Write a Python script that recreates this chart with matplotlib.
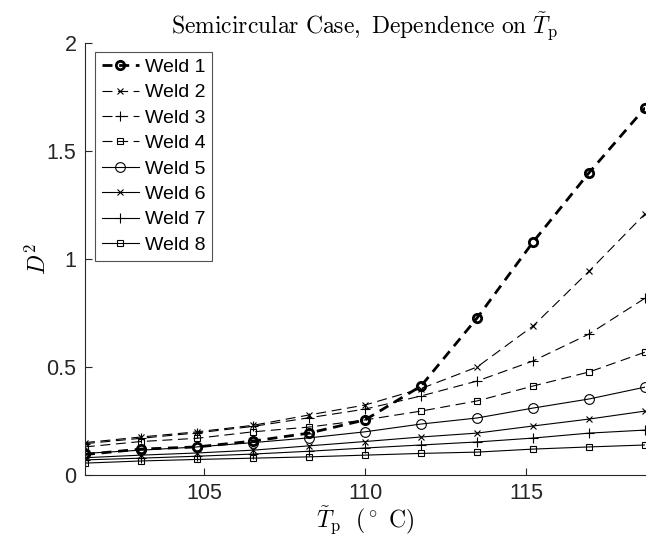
import numpy as np
import matplotlib
matplotlib.use('Agg')
import matplotlib.pyplot as plt

plt.rcParams['font.family'] = ['Liberation Sans', 'DejaVu Sans']
plt.rcParams['mathtext.fontset'] = 'cm'

# temperature grid (deg C)
tp = [101.3, 103.04, 104.78, 106.52, 108.26, 110.0, 111.74, 113.48, 115.22, 116.96, 118.7]

weld1 = [0.095, 0.12, 0.13, 0.157, 0.194, 0.255, 0.412, 0.727, 1.079, 1.40, 1.70]
weld2 = [0.15, 0.176, 0.20, 0.23, 0.278, 0.324, 0.40, 0.50, 0.69, 0.944, 1.21]
weld3 = [0.145, 0.17, 0.195, 0.225, 0.265, 0.305, 0.366, 0.435, 0.528, 0.653, 0.819]
weld4 = [0.13, 0.155, 0.17, 0.20, 0.222, 0.255, 0.296, 0.343, 0.412, 0.477, 0.569]
weld5 = [0.10, 0.115, 0.13, 0.15, 0.172, 0.20, 0.236, 0.264, 0.31, 0.352, 0.407]
weld6 = [0.08, 0.092, 0.102, 0.115, 0.135, 0.155, 0.176, 0.194, 0.227, 0.259, 0.296]
weld7 = [0.07, 0.078, 0.087, 0.097, 0.11, 0.125, 0.139, 0.153, 0.171, 0.194, 0.208]
weld8 = [0.055, 0.065, 0.072, 0.078, 0.084, 0.092, 0.10, 0.106, 0.12, 0.13, 0.139]

series = [weld1, weld2, weld3, weld4, weld5, weld6, weld7, weld8]
labels = ['Weld %d' % (i + 1) for i in range(8)]
markers = ['o', 'x', '+', 's', 'o', 'x', '+', 's']
msizes = [6, 5, 7, 4.5, 7, 5, 7, 4.5]

fig = plt.figure(figsize=(6.53, 5.42), dpi=100)
ax = fig.add_axes([0.130, 0.1236, 0.858, 0.797])

for i, (y, lab, m) in enumerate(zip(series, labels, markers)):
    if i == 0:
        ax.plot(tp, y, color='k', lw=2.0, dashes=(3.6, 2.4), marker=m, ms=6,
                mew=2.0, mfc='none', label=lab)
    elif i < 4:
        ax.plot(tp, y, color='k', lw=0.8, dashes=(9, 5), marker=m, ms=msizes[i],
                mew=0.8, mfc='none', label=lab)
    else:
        ax.plot(tp, y, color='k', lw=0.8, marker=m, ms=msizes[i],
                mew=0.8, mfc='none', label=lab)

ax.set_xlim(101.3, 118.7)
ax.set_ylim(0, 2)
ax.set_xticks([105, 110, 115])
ax.set_yticks([0, 0.5, 1, 1.5, 2])
ax.set_yticklabels(['0', '0.5', '1', '1.5', '2'])

gray = '#262626'
for side in ['top', 'right']:
    ax.spines[side].set_visible(False)
for side in ['left', 'bottom']:
    ax.spines[side].set_color(gray)
    ax.spines[side].set_linewidth(0.8)
ax.tick_params(direction='in', length=5, width=0.8, colors=gray, labelsize=15.5, pad=6)

ax.set_title(r'$\mathrm{Semicircular\ Case,\ Dependence\ on\ }\tilde{T}_{\mathrm{p}}$',
             fontsize=17, pad=5)
ax.set_xlabel(r'$\tilde{T}_{\mathrm{p}}\ \ (^\circ\ \mathrm{C})$', fontsize=17, labelpad=0)
ax.set_ylabel(r'$D^2$', fontsize=17)
ax.yaxis.set_label_coords(-0.06, 0.5)

leg = ax.legend(loc='upper left', bbox_to_anchor=(0.018, 0.98), fontsize=14,
                frameon=True, fancybox=False, edgecolor=gray, handlelength=1.9,
                handletextpad=0.3, borderpad=0.35, labelspacing=0.4, borderaxespad=0)
leg.get_frame().set_linewidth(0.8)

fig.savefig('out.png', dpi=100)
